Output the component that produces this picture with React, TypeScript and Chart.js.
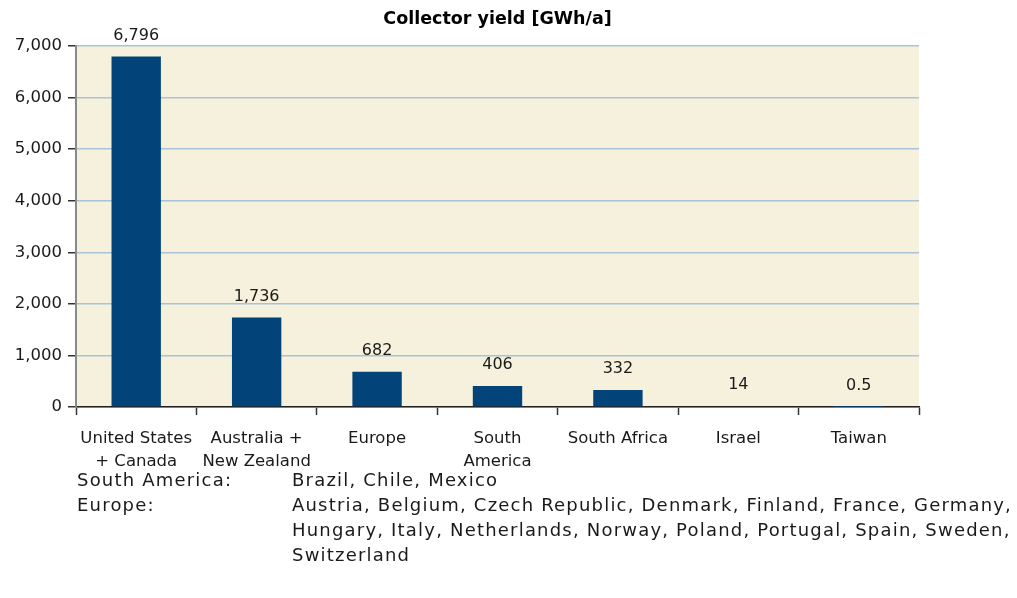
import React, { useEffect, useRef } from "react";
import { Chart, registerables } from "chart.js";

Chart.register(...registerables);

const categories: string[][] = [
  ["United States", "+ Canada"],
  ["Australia +", "New Zealand"],
  ["Europe"],
  ["South", "America"],
  ["South Africa"],
  ["Israel"],
  ["Taiwan"],
];
const collectorYield: number[] = [6796, 1736, 682, 406, 332, 14, 0.5];
const yTicks: number[] = [0, 1000, 2000, 3000, 4000, 5000, 6000, 7000];
const chartTitle = "Collector yield [GWh/a]";
const regionNotes: { region: string; countries: string[] }[] = [
  { region: "South America:", countries: ["Brazil, Chile, Mexico"] },
  {
    region: "Europe:",
    countries: [
      "Austria, Belgium, Czech Republic, Denmark, Finland, France, Germany,",
      "Hungary, Italy, Netherlands, Norway, Poland, Portugal, Spain, Sweden,",
      "Switzerland",
    ],
  },
];

const FONT = "'DejaVu Sans', Verdana, sans-serif";
const TEXT = "#1a1a1a";

const plotBackground = {
  id: "plotBackground",
  beforeDraw(chart: any) {
    const { ctx, chartArea } = chart;
    ctx.save();
    ctx.fillStyle = "#F6F1DC";
    ctx.fillRect(chartArea.left, chartArea.top, chartArea.right - chartArea.left, chartArea.bottom - chartArea.top);
    ctx.restore();
  },
};

const titleAndValues = {
  id: "titleAndValues",
  afterDatasetsDraw(chart: any) {
    const { ctx, chartArea } = chart;
    ctx.save();
    ctx.fillStyle = "#000";
    ctx.font = `bold 17.5px ${FONT}`;
    ctx.textAlign = "center";
    ctx.textBaseline = "middle";
    ctx.fillText(chartTitle, (chartArea.left + chartArea.right) / 2, 19);

    ctx.fillStyle = TEXT;
    ctx.font = `16px ${FONT}`;
    ctx.textBaseline = "middle";
    const meta = chart.getDatasetMeta(0);
    meta.data.forEach((bar: any, i: number) => {
      const v = collectorYield[i];
      const label = v.toLocaleString("en-US");
      ctx.fillText(label, bar.x, bar.y - 21);
    });
    ctx.restore();
  },
};

function CollectorYieldChart() {
  const ref = useRef<HTMLCanvasElement | null>(null);

  useEffect(() => {
    if (!ref.current) return;
    const chart = new Chart(ref.current, {
      type: "bar",
      data: {
        labels: categories,
        datasets: [
          {
            data: collectorYield,
            backgroundColor: "#02437A",
            categoryPercentage: 1,
            barPercentage: 0.41,
          },
        ],
      },
      options: {
        animation: false,
        responsive: false,
        layout: { padding: { top: 46, right: 98, left: 0, bottom: 0 } },
        plugins: {
          legend: { display: false },
          tooltip: { enabled: false },
          title: { display: false },
        },
        scales: {
          x: {
            grid: {
              offset: true,
              drawOnChartArea: false,
              tickLength: 8,
              tickColor: "#333",
              tickWidth: 1.5,
            },
            border: { color: "#222", width: 1.5 },
            ticks: {
              color: TEXT,
              font: { family: FONT, size: 16.5, lineHeight: 1.35 },
              padding: 13,
              maxRotation: 0,
              autoSkip: false,
            },
            afterFit(scale: any) {
              scale.height = 68;
            },
          },
          y: {
            min: 0,
            max: 7000,
            afterBuildTicks(scale: any) {
              scale.ticks = yTicks.map((v) => ({ value: v }));
            },
            grid: {
              color: "#A8C3D8",
              lineWidth: 1.5,
              tickLength: 8,
              tickColor: "#333",
              tickWidth: 1.5,
            },
            border: { color: "#8A8A8A", width: 2 },
            ticks: {
              color: TEXT,
              font: { family: FONT, size: 16.5 },
              padding: 6,
              callback: (v: any) => Number(v).toLocaleString("en-US"),
            },
            afterFit(scale: any) {
              scale.width = 76;
            },
          },
        },
      },
      plugins: [plotBackground, titleAndValues],
    });
    return () => chart.destroy();
  }, []);

  return <canvas ref={ref} width={1017} height={475} style={{ display: "block" }} />;
}

export default function App() {
  return (
    <div style={{ position: "absolute", left: 0, top: 0, width: 1017, height: 598, background: "#fff" }}>
      <CollectorYieldChart />
      <div
        style={{
          position: "absolute",
          left: 77,
          top: 467,
          fontFamily: FONT,
          fontSize: 18,
          letterSpacing: "1.2px",
          lineHeight: "25px",
          color: TEXT,
          whiteSpace: "nowrap",
        }}
      >
        {regionNotes.map((n) => (
          <div key={n.region} style={{ display: "flex" }}>
            <div style={{ width: 215 }}>{n.region}</div>
            <div>
              {n.countries.map((line) => (
                <div key={line}>{line}</div>
              ))}
            </div>
          </div>
        ))}
      </div>
    </div>
  );
}
